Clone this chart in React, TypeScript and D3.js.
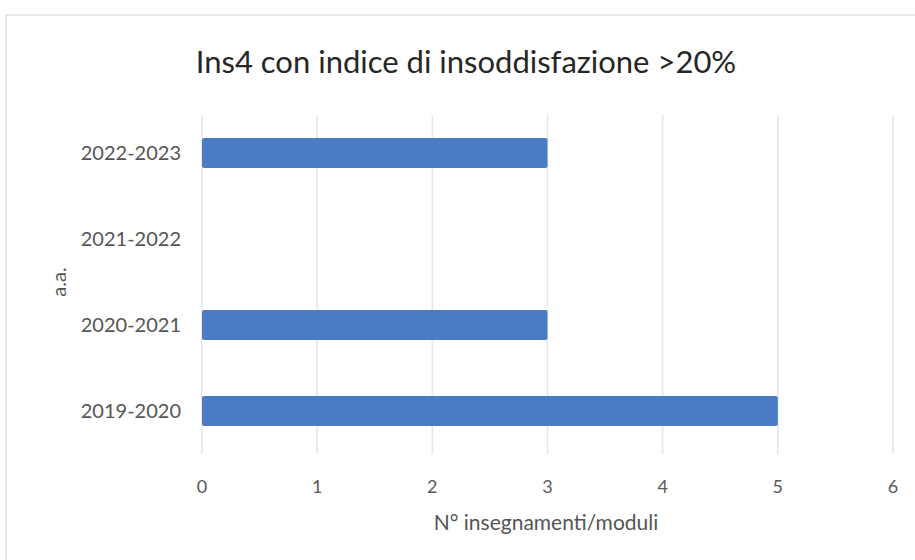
import * as React from "react"
import * as d3 from "d3"

const years = ["2019-2020", "2020-2021", "2021-2022", "2022-2023"]
const counts = [5, 3, 0, 3]
const xTicks = [0, 1, 2, 3, 4, 5, 6]
const title = "Ins4 con indice di insoddisfazione >20%"
const xTitle = "N° insegnamenti/moduli"
const yTitle = "a.a."

export default function App() {
    const [w, h] = [915, 560]
    const m = { top: 110, bottom: 106, left: 202, right: 22 }
    const font = "Lato, 'Open Sans', sans-serif"

    const data = years.map((name, i) => ({ name, value: counts[i] }))

    const xScale = d3
        .scaleLinear()
        .domain([0, 6])
        .range([m.left, w - m.right])

    const yScale = d3
        .scaleBand()
        .domain([...years].reverse())
        .range([m.top, h - m.bottom])
        .paddingInner(0.65)
        .paddingOuter(0.325)

    const grid = xTicks.map((d, i) => (
        <g key={i}>
            <line
                x1={xScale(d)}
                x2={xScale(d)}
                y1={m.top + 5}
                y2={h - m.bottom}
                stroke="#e6e6e6"
                strokeWidth={1.5}
            />
            <text
                x={xScale(d)}
                y={h - m.bottom + 39}
                fontSize={18}
                textAnchor="middle"
                fill="#595959"
            >
                {d}
            </text>
        </g>
    ))

    const rects = data.map((d, i) => {
        const y = yScale(d.name)
        if (y === undefined) { return null }
        return (
            <g key={i}>
                {d.value > 0 && (
                    <rect
                        x={xScale(0)}
                        y={y}
                        width={xScale(d.value) - xScale(0)}
                        height={yScale.bandwidth()}
                        fill="#4a7cc5"
                        rx={2}
                    />
                )}
                <text
                    x={181}
                    y={y + yScale.bandwidth() / 2}
                    dy="0.35em"
                    fontSize={20}
                    textAnchor="end"
                    fill="#555"
                >
                    {d.name}
                </text>
            </g>
        )
    })

    return (
        <svg width={w} height={h} style={{ position: "absolute", left: 0, top: 0 }} fontFamily={font}>
            <rect x={0} y={0} width={w} height={h} fill="white" />
            <rect x={6} y={15} width={w + 10} height={h} fill="none" stroke="#e4e4e4" strokeWidth={1.5} />
            <text x={466} y={73} fontSize={31} textAnchor="middle" fill="#262626">
                {title}
            </text>
            {grid}
            {rects}
            <text x={546} y={530} fontSize={21} textAnchor="middle" fill="#555">
                {xTitle}
            </text>
            <text
                transform={`translate(66,${(m.top + h - m.bottom) / 2}) rotate(-90)`}
                fontSize={20}
                textAnchor="middle"
                fill="#555"
            >
                {yTitle}
            </text>
        </svg>
    )
}
